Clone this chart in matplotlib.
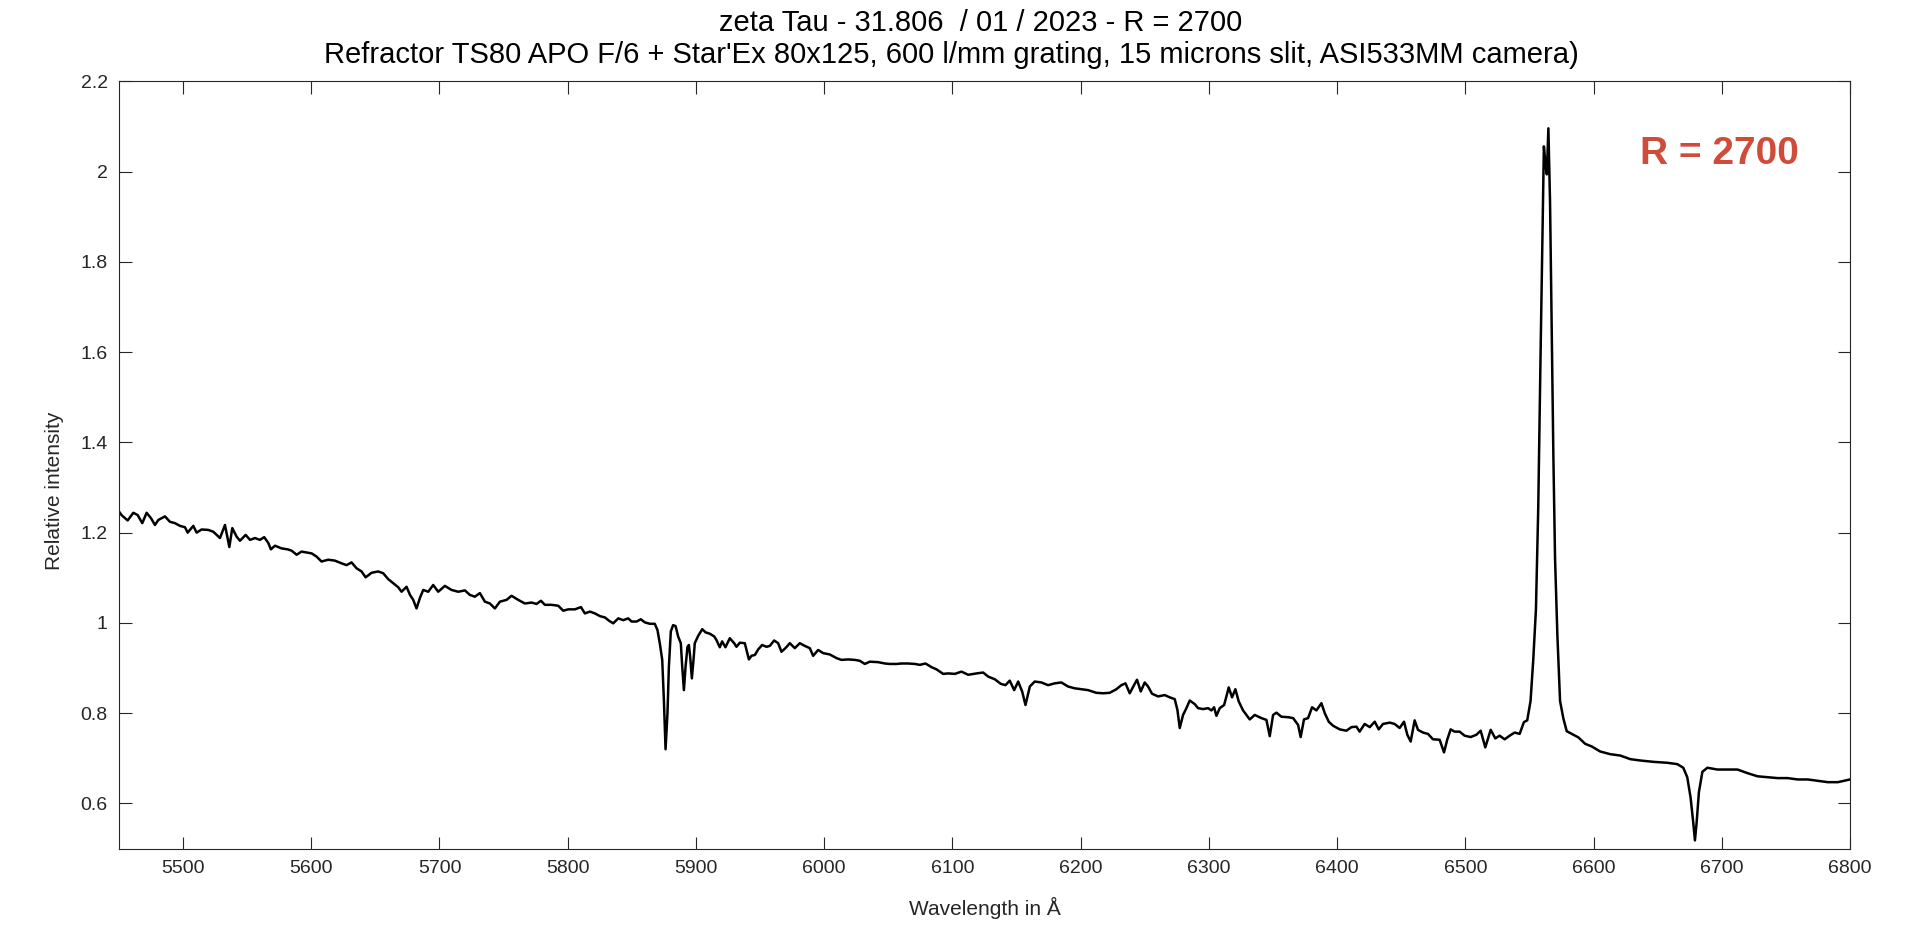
import numpy as np
import matplotlib.pyplot as plt

# spectrum, in Angstrom / relative intensity
wavelength = [
    5450.0, 5452.0, 5456.8, 5461.2, 5464.6, 5468.2, 5471.6, 5475.0, 5478.1, 5480.7,
    5485.9, 5489.8, 5493.7, 5497.6, 5501.5, 5503.6, 5508.0, 5510.6, 5514.5, 5519.7,
    5523.6, 5528.8, 5532.7, 5536.1, 5538.4, 5541.8, 5544.4, 5548.8, 5552.2, 5556.1,
    5560.0, 5563.3, 5566.5, 5568.5, 5571.7, 5576.9, 5581.5, 5584.7, 5588.6, 5592.4,
    5596.3, 5600.3, 5604.1, 5608.0, 5613.2, 5618.4, 5623.6, 5627.5, 5631.4, 5635.3,
    5639.2, 5642.4, 5647.0, 5652.2, 5656.1, 5660.0, 5663.9, 5667.8, 5670.4, 5674.3,
    5677.0, 5679.5, 5682.1, 5684.7, 5687.3, 5691.2, 5695.1, 5699.0, 5704.2, 5709.4,
    5714.6, 5719.8, 5723.7, 5727.6, 5731.5, 5735.4, 5739.3, 5743.2, 5747.1, 5752.3,
    5756.2, 5761.4, 5766.6, 5771.8, 5775.7, 5779.1, 5782.2, 5787.4, 5792.6, 5796.5,
    5800.4, 5805.6, 5810.3, 5813.4, 5817.3, 5821.2, 5825.1, 5829.0, 5832.1, 5835.5,
    5839.4, 5843.3, 5847.2, 5849.8, 5853.7, 5857.0, 5860.2, 5864.1, 5867.9, 5870.0,
    5871.8, 5873.7, 5875.0, 5876.3, 5877.8, 5878.9, 5880.4, 5882.2, 5884.1, 5886.1,
    5888.2, 5889.3, 5890.6, 5891.9, 5893.4, 5894.5, 5895.5, 5896.8, 5898.1, 5899.1,
    5901.7, 5904.9, 5907.5, 5910.8, 5914.2, 5916.0, 5918.6, 5920.4, 5923.0, 5926.4,
    5929.8, 5931.6, 5934.2, 5938.1, 5941.3, 5943.3, 5946.0, 5948.5, 5951.6, 5955.0,
    5957.6, 5961.0, 5964.1, 5966.7, 5969.8, 5973.2, 5977.1, 5981.0, 5984.9, 5988.8,
    5991.4, 5995.3, 5999.2, 6004.4, 6009.6, 6013.5, 6018.7, 6023.9, 6027.8, 6031.7,
    6035.6, 6042.1, 6047.3, 6051.2, 6056.4, 6060.3, 6065.5, 6070.7, 6074.6, 6079.0,
    6083.7, 6087.6, 6092.8, 6096.7, 6101.9, 6107.1, 6112.3, 6118.8, 6124.0, 6127.9,
    6133.1, 6137.7, 6141.4, 6144.7, 6148.2, 6151.3, 6154.4, 6157.0, 6160.4, 6164.2,
    6169.4, 6174.6, 6179.8, 6185.0, 6190.2, 6195.4, 6200.6, 6205.8, 6212.3, 6217.5,
    6222.7, 6227.9, 6231.8, 6235.0, 6238.3, 6242.2, 6244.0, 6246.9, 6250.0, 6252.6,
    6255.7, 6260.4, 6265.6, 6269.5, 6273.4, 6275.5, 6277.3, 6279.9, 6282.5, 6285.1,
    6289.0, 6291.6, 6295.5, 6299.4, 6302.0, 6304.1, 6305.9, 6308.5, 6311.9, 6313.7,
    6315.5, 6318.1, 6320.7, 6323.3, 6326.7, 6331.9, 6335.8, 6341.0, 6344.9, 6347.5,
    6350.1, 6352.7, 6356.6, 6361.8, 6365.7, 6369.6, 6371.6, 6374.2, 6377.4, 6380.5,
    6383.9, 6387.8, 6390.4, 6393.5, 6396.9, 6402.1, 6407.3, 6411.2, 6415.1, 6417.6,
    6421.5, 6425.5, 6429.4, 6432.5, 6435.8, 6441.1, 6444.9, 6448.8, 6452.2, 6454.8,
    6457.4, 6460.5, 6463.1, 6467.0, 6470.9, 6474.8, 6480.0, 6483.4, 6486.0, 6488.6,
    6491.7, 6495.6, 6499.5, 6504.2, 6508.6, 6512.0, 6515.6, 6519.8, 6523.4, 6526.8,
    6530.7, 6534.6, 6538.5, 6542.4, 6545.7, 6548.3, 6550.9, 6553.0, 6555.1, 6556.9,
    6558.7, 6560.3, 6561.3, 6562.7, 6563.6, 6564.8, 6566.1, 6567.4, 6568.7, 6570.0,
    6571.8, 6573.9, 6576.5, 6579.1, 6583.0, 6588.3, 6593.5, 6598.7, 6605.2, 6613.1,
    6620.9, 6628.7, 6636.6, 6647.0, 6657.4, 6665.3, 6670.0, 6673.1, 6675.7, 6677.8,
    6679.1, 6680.4, 6682.2, 6684.9, 6688.8, 6696.6, 6704.4, 6712.3, 6720.1, 6727.9,
    6735.8, 6743.6, 6751.4, 6759.3, 6767.1, 6774.9, 6782.8, 6790.6, 6800.0,
]
intensity = [
    1.247, 1.239, 1.227, 1.244, 1.239, 1.221, 1.244, 1.232, 1.217, 1.228,
    1.236, 1.224, 1.221, 1.215, 1.212, 1.200, 1.215, 1.200, 1.207, 1.206,
    1.202, 1.188, 1.217, 1.168, 1.210, 1.191, 1.182, 1.195, 1.184, 1.188,
    1.184, 1.190, 1.177, 1.163, 1.171, 1.165, 1.163, 1.160, 1.151, 1.158,
    1.156, 1.154, 1.147, 1.136, 1.140, 1.138, 1.132, 1.128, 1.134, 1.121,
    1.114, 1.101, 1.111, 1.114, 1.110, 1.097, 1.088, 1.079, 1.069, 1.080,
    1.062, 1.051, 1.032, 1.055, 1.073, 1.069, 1.084, 1.069, 1.082, 1.073,
    1.069, 1.072, 1.062, 1.058, 1.066, 1.047, 1.043, 1.032, 1.047, 1.051,
    1.060, 1.051, 1.043, 1.045, 1.042, 1.049, 1.040, 1.040, 1.038, 1.027,
    1.030, 1.030, 1.035, 1.021, 1.025, 1.021, 1.015, 1.012, 1.005, 0.999,
    1.010, 1.006, 1.010, 1.003, 1.003, 1.008, 1.001, 0.998, 0.998, 0.984,
    0.955, 0.918, 0.829, 0.720, 0.800, 0.903, 0.981, 0.995, 0.993, 0.970,
    0.955, 0.903, 0.851, 0.903, 0.947, 0.951, 0.925, 0.877, 0.918, 0.955,
    0.971, 0.986, 0.979, 0.976, 0.970, 0.962, 0.946, 0.959, 0.946, 0.966,
    0.955, 0.947, 0.956, 0.955, 0.919, 0.927, 0.929, 0.941, 0.951, 0.947,
    0.949, 0.961, 0.955, 0.936, 0.944, 0.955, 0.944, 0.955, 0.949, 0.944,
    0.927, 0.940, 0.933, 0.930, 0.922, 0.918, 0.919, 0.918, 0.916, 0.909,
    0.914, 0.913, 0.910, 0.909, 0.909, 0.910, 0.910, 0.909, 0.907, 0.910,
    0.902, 0.897, 0.887, 0.888, 0.887, 0.892, 0.885, 0.888, 0.890, 0.881,
    0.875, 0.865, 0.862, 0.872, 0.851, 0.870, 0.848, 0.818, 0.859, 0.870,
    0.868, 0.862, 0.866, 0.868, 0.859, 0.855, 0.853, 0.851, 0.845, 0.844,
    0.845, 0.853, 0.862, 0.866, 0.844, 0.865, 0.874, 0.848, 0.868, 0.859,
    0.843, 0.837, 0.840, 0.835, 0.831, 0.807, 0.767, 0.796, 0.811, 0.828,
    0.820, 0.811, 0.809, 0.811, 0.806, 0.813, 0.794, 0.811, 0.818, 0.837,
    0.857, 0.835, 0.853, 0.826, 0.806, 0.786, 0.796, 0.789, 0.785, 0.749,
    0.796, 0.801, 0.792, 0.791, 0.789, 0.774, 0.747, 0.786, 0.789, 0.813,
    0.806, 0.822, 0.800, 0.781, 0.772, 0.764, 0.761, 0.769, 0.770, 0.759,
    0.776, 0.769, 0.781, 0.764, 0.776, 0.779, 0.776, 0.767, 0.781, 0.752,
    0.737, 0.784, 0.763, 0.757, 0.754, 0.742, 0.741, 0.713, 0.742, 0.764,
    0.759, 0.759, 0.750, 0.747, 0.752, 0.761, 0.724, 0.763, 0.744, 0.750,
    0.742, 0.750, 0.757, 0.754, 0.780, 0.784, 0.827, 0.918, 1.030, 1.256,
    1.594, 1.876, 2.056, 2.011, 1.994, 2.096, 1.932, 1.651, 1.369, 1.143,
    0.974, 0.827, 0.788, 0.760, 0.754, 0.746, 0.732, 0.726, 0.715, 0.709,
    0.706, 0.698, 0.695, 0.692, 0.690, 0.687, 0.679, 0.658, 0.613, 0.557,
    0.518, 0.557, 0.625, 0.670, 0.679, 0.675, 0.675, 0.675, 0.667, 0.660,
    0.658, 0.656, 0.656, 0.653, 0.653, 0.650, 0.647, 0.647, 0.653,
]

xticks = list(range(5500, 6801, 100))
yticks = [0.6, 0.8, 1.0, 1.2, 1.4, 1.6, 1.8, 2.0, 2.2]

title1 = 'zeta Tau - 31.806  / 01 / 2023 - R = 2700'
title2 = "Refractor TS80 APO F/6 + Star'Ex 80x125, 600 l/mm grating, 15 microns slit, ASI533MM camera)"

plt.rcParams['font.family'] = ['Liberation Sans', 'DejaVu Sans']

fig = plt.figure(figsize=(19.06, 9.25), dpi=100)
ax = fig.add_axes([0.0624, 0.0827, 0.9082, 0.8293])

ax.plot(wavelength, intensity, color='black', lw=1.8)

ax.set_xlim(5450, 6800)
ax.set_ylim(0.5, 2.2)
ax.set_xticks(xticks)
ax.set_yticks(yticks)
ax.set_yticklabels(['%g' % v for v in yticks])
ax.tick_params(direction='in', top=True, right=True, length=9, width=0.8,
               labelsize=14, colors='#262626', pad=8)
for s in ax.spines.values():
    s.set_color('#262626')
    s.set_linewidth(0.8)

ax.set_xlabel('Wavelength in Å', fontsize=15, color='#262626')
ax.set_ylabel('Relative intensity', fontsize=15, color='#262626')
ax.xaxis.set_label_coords(0.5, -0.063)
ax.yaxis.set_label_coords(-0.032, 0.466)

# two title lines, drawn separately as in the original
fig.text(0.5147, 0.975, title1, fontsize=21, ha='center', va='center')
fig.text(0.4994, 0.941, title2, fontsize=21, ha='center', va='center')

ax.text(6698, 2.04, 'R = 2700', fontsize=28, fontweight='bold', color='#cf4b3a',
        ha='center', va='center')

plt.savefig('out.png', dpi=100)
